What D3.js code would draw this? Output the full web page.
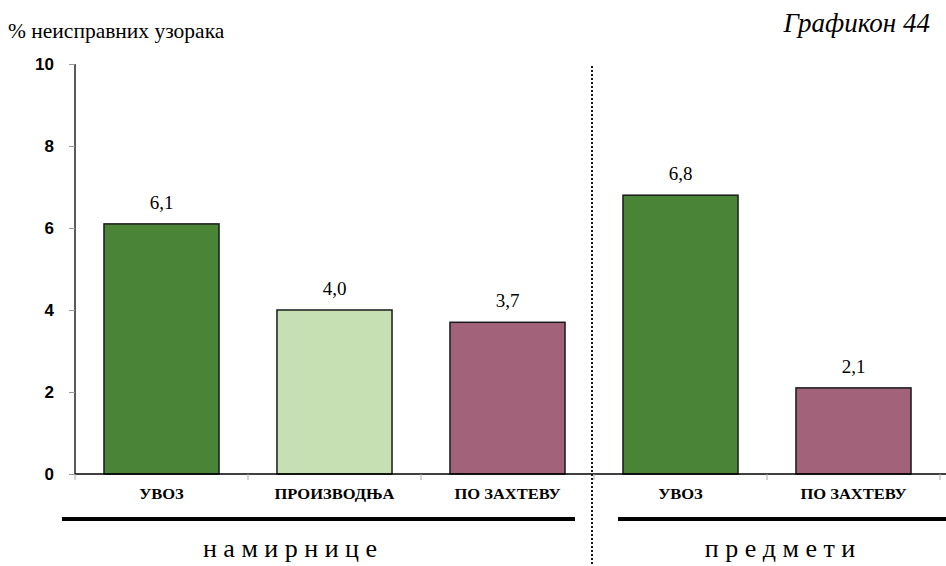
<!DOCTYPE html>
<html><head><meta charset="utf-8">
<script src="https://cdn.jsdelivr.net/npm/d3@7"></script>
<style>body{margin:0;background:#fff}</style>
</head><body>
<svg id="c" width="946" height="566"></svg>
<script>
const categories = ["УВОЗ","ПРОИЗВОДЊА","ПО ЗАХТЕВУ","УВОЗ","ПО ЗАХТЕВУ"];
const values = [6.1, 4.0, 3.7, 6.8, 2.1];
const valueLabels = ["6,1","4,0","3,7","6,8","2,1"];
const barColors = ["#4a8437","#c6e0b4","#a2637a","#4a8437","#a2637a"];
const groups = ["н а м и р н и ц е","п р е д м е т и"];
const yTicks = [0,2,4,6,8,10];

const SERIF = '"Liberation Serif"';
const SANS = '"Liberation Sans"';
const svg = d3.select("#c");
const x0 = 75, x1 = 940, yTop = 64, yBot = 474;
const x = d3.scaleBand().domain(d3.range(categories.length)).range([x0, x1]).paddingInner(0.335).paddingOuter(0.1675);
const xs = d3.scaleLinear().domain([0, categories.length]).range([x0, x1]);
const y = d3.scaleLinear().domain([0, 10]).range([yBot, yTop]);

// y axis
const ya = svg.append("g").attr("transform", `translate(${x0},0)`)
  .call(d3.axisLeft(y).tickValues(yTicks).tickSize(6).tickPadding(15));
ya.select(".domain").attr("stroke","#000").attr("stroke-width",1.3).attr("d",`M0,${yTop}V${yBot}`);
ya.selectAll(".tick line").attr("stroke","#999");
ya.selectAll(".tick text").style("font-family",SANS).style("font-weight","bold").style("font-size","17px").attr("fill","#000");

// bars
svg.selectAll("rect.bar").data(values).join("rect")
  .attr("x",(d,i)=>x(i)).attr("y",d=>y(d)).attr("width",x.bandwidth()).attr("height",d=>y(0)-y(d))
  .attr("fill",(d,i)=>barColors[i]).attr("stroke","#1a1a1a").attr("stroke-width",1.5);

// x axis line + ticks
svg.append("line").attr("x1",x0).attr("x2",x1+6).attr("y1",yBot).attr("y2",yBot).attr("stroke","#000").attr("stroke-width",1.3);
svg.selectAll("line.xt").data(d3.range(categories.length+1)).join("line")
  .attr("x1",d=>xs(d)).attr("x2",d=>xs(d)).attr("y1",yBot).attr("y2",yBot+6).attr("stroke","#aaa");

// value labels
svg.selectAll("text.val").data(values).join("text")
  .attr("x",(d,i)=>x(i)+x.bandwidth()/2).attr("y",d=>y(d)-15)
  .attr("text-anchor","middle").style("font-family",SERIF).style("font-size","19px")
  .text((d,i)=>valueLabels[i]);

// category labels (slightly widened like the original)
const cats = svg.selectAll("text.cat").data(categories).join("text")
  .attr("x",(d,i)=>x(i)+x.bandwidth()/2).attr("y",499)
  .attr("text-anchor","middle").style("font-family",SERIF).style("font-weight","bold").style("font-size","15px")
  .text(d=>d);
cats.each(function(){ const w=this.getComputedTextLength(); d3.select(this).attr("textLength",w*1.1).attr("lengthAdjust","spacingAndGlyphs"); });

// divider
svg.append("line").attr("x1",592).attr("x2",592).attr("y1",66).attr("y2",566).attr("stroke","#000").attr("stroke-width",1.8).attr("stroke-dasharray","2,2");

// group underlines and labels
const gLines = [[62,575],[618,946]];
const gCenters = [290,780];
svg.selectAll("line.g").data(gLines).join("line")
  .attr("x1",d=>d[0]).attr("x2",d=>d[1]).attr("y1",519).attr("y2",519).attr("stroke","#000").attr("stroke-width",4);
svg.selectAll("text.grp").data(groups).join("text")
  .attr("x",(d,i)=>gCenters[i]).attr("y",557)
  .attr("text-anchor","middle").style("font-family",SERIF).style("font-size","26px")
  .text(d=>d);

// titles
svg.append("text").attr("x",8).attr("y",38).style("font-family",SERIF).style("font-size","21.5px").text("% неисправних узорака");
svg.append("text").attr("x",930).attr("y",32).attr("text-anchor","end").style("font-family",SERIF).style("font-style","italic").style("font-size","27px").text("Графикон 44");
</script>
</body></html>
